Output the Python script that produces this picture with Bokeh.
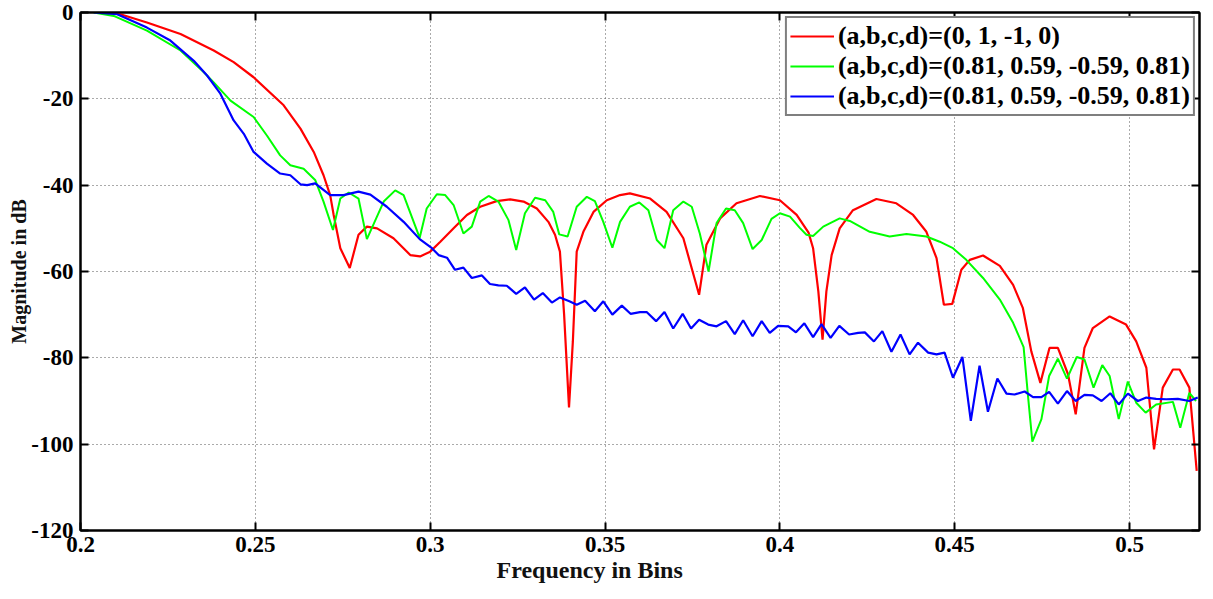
from bokeh.plotting import figure
from bokeh.models import LinearAxis, FixedTicker, Legend, LegendItem, Range1d, Title
from bokeh.embed import file_html
from bokeh.resources import INLINE

# ---------------- data ----------------
x_ticks = [0.2, 0.25, 0.3, 0.35, 0.4, 0.45, 0.5]
x_tick_labels = ["0.2", "0.25", "0.3", "0.35", "0.4", "0.45", "0.5"]
y_ticks = [-120, -100, -80, -60, -40, -20, 0]
y_tick_labels = ["-120", "-100", "-80", "-60", "-40", "-20", "0"]

x_title = "Frequency in Bins"
y_title = "Magnitude in dB"

series_labels = [
    "(a,b,c,d)=(0, 1, -1, 0)",
    "(a,b,c,d)=(0.81, 0.59, -0.59, 0.81)",
    "(a,b,c,d)=(0.81, 0.59, -0.59, 0.81)",
]

red_f = [0.2038, 0.2114, 0.219, 0.2286, 0.2381, 0.2438, 0.2495, 0.2581, 0.2629, 0.2667,
         0.2695, 0.2714, 0.2724, 0.2743, 0.277, 0.2795, 0.2819, 0.2848, 0.2895, 0.2943,
         0.2971, 0.3, 0.3029, 0.3067, 0.3105, 0.3143, 0.319, 0.3229, 0.3267, 0.3305,
         0.3338, 0.3357, 0.3371, 0.3383, 0.3397, 0.3408, 0.3419, 0.3438, 0.3467, 0.3505,
         0.3543, 0.3571, 0.3629, 0.3676, 0.3724, 0.3769, 0.379, 0.3829, 0.3876, 0.3943,
         0.4, 0.4048, 0.4082, 0.4095, 0.411, 0.4122, 0.4133, 0.4148, 0.4171, 0.4209,
         0.4276, 0.4333, 0.4381, 0.4419, 0.4448, 0.4469, 0.4493, 0.4519, 0.4543, 0.4581,
         0.4629, 0.4667, 0.4695, 0.4719, 0.4745, 0.4771, 0.4795, 0.4824, 0.4846, 0.4871,
         0.4895, 0.4943, 0.499, 0.5019, 0.5048, 0.507, 0.5095, 0.5124, 0.5143, 0.5171,
         0.5192]
red_db = [0, -0.4, -2.3, -5, -8.8, -11.5, -15, -21.5, -26.9, -32.3,
          -37.7, -42.3, -46.9, -54.6, -59.2, -51.5, -49.6, -50, -52.3, -56.2,
          -56.5, -55.4, -53.1, -50, -46.9, -45, -43.7, -43.3, -43.8, -45.4,
          -48.5, -51.5, -55.4, -70, -91.5, -76.2, -55.4, -50.8, -46.2, -43.5,
          -42.3, -41.9, -43.1, -46.2, -52.3, -65.4, -53.8, -47.7, -44.2, -42.5,
          -43.5, -46.9, -51, -54.6, -64.6, -75.8, -64.6, -56.2, -50, -45.8,
          -43.2, -44.2, -46.9, -50.8, -56.9, -67.7, -67.5, -59.6, -57.3, -56.3,
          -58.7, -63.1, -68.5, -78.5, -85.8, -77.7, -77.7, -83.8, -93.1, -77.7,
          -73.1, -70.4, -72.3, -76.2, -82.3, -101.2, -86.9, -82.7, -82.7, -86.9,
          -106.2]

green_f = [0.2038, 0.2095, 0.219, 0.2286, 0.2352, 0.2381, 0.2429, 0.2495, 0.2533, 0.2571,
           0.26, 0.2638, 0.2671, 0.2695, 0.2722, 0.2743, 0.2767, 0.2795, 0.2819, 0.2867,
           0.29, 0.2924, 0.297, 0.299, 0.3019, 0.3043, 0.3067, 0.3095, 0.3119, 0.3143,
           0.3167, 0.3195, 0.3224, 0.3246, 0.3271, 0.33, 0.3329, 0.3352, 0.3369, 0.3393,
           0.3419, 0.3448, 0.3471, 0.3495, 0.3521, 0.3543, 0.3571, 0.3598, 0.3624, 0.3648,
           0.367, 0.3695, 0.3724, 0.3748, 0.3771, 0.3796, 0.3819, 0.3846, 0.3871, 0.3895,
           0.3922, 0.3948, 0.3976, 0.4, 0.4029, 0.4057, 0.4076, 0.4095, 0.4124, 0.4171,
           0.42, 0.4257, 0.4314, 0.4362, 0.4419, 0.4457, 0.4495, 0.4533, 0.4581, 0.4629,
           0.4667, 0.4697, 0.471, 0.4722, 0.4748, 0.477, 0.4795, 0.4821, 0.4849, 0.4871,
           0.4897, 0.4922, 0.4943, 0.4969, 0.4995, 0.5019, 0.5046, 0.5076, 0.5124, 0.5145,
           0.5171, 0.519]
green_db = [0, -0.8, -4.2, -8.8, -13.8, -16.2, -20.4, -24.2, -28.5, -33.1,
            -35.4, -36.2, -38.8, -43.8, -50.4, -43.1, -41.7, -43.1, -52.5, -43.8,
            -41.2, -42.3, -52.2, -45.4, -42.1, -42.3, -44.6, -51.2, -49.6, -43.8,
            -42.5, -43.8, -48.1, -55, -46.5, -42.9, -43.5, -46.2, -51.4, -51.9,
            -45, -42.7, -43.7, -48.5, -54.5, -48.5, -45, -44, -45.8, -52.7,
            -54.6, -45.8, -43.8, -45, -51.2, -60, -48.8, -45.4, -45.8, -48.8,
            -54.8, -52.7, -47.8, -46.5, -47.3, -49.9, -51.5, -51.8, -49.6, -47.7,
            -48.3, -50.8, -51.9, -51.3, -51.9, -53.1, -54.6, -57.3, -61.5, -66.5,
            -71.9, -77.5, -89.2, -99.4, -94.2, -84.2, -80.2, -84.8, -79.8, -80.4,
            -86.9, -81.7, -84.2, -94.2, -85.5, -90.4, -92.7, -90.8, -90.2, -96.2,
            -88.1, -90]

blue_f = [0.2038, 0.2105, 0.219, 0.2257, 0.2324, 0.2362, 0.24, 0.2438, 0.2467, 0.2495,
          0.2533, 0.2571, 0.26, 0.2629, 0.2648, 0.2671, 0.2714, 0.2752, 0.2795, 0.2829,
          0.2876, 0.2924, 0.297, 0.3005, 0.3024, 0.3048, 0.3071, 0.3095, 0.3119, 0.3148,
          0.3171, 0.3195, 0.3219, 0.3246, 0.3271, 0.3297, 0.3322, 0.3348, 0.3371, 0.3398,
          0.3419, 0.3443, 0.3471, 0.3495, 0.3521, 0.3548, 0.3573, 0.36, 0.3619, 0.3646,
          0.367, 0.3695, 0.3722, 0.3746, 0.3769, 0.3795, 0.3819, 0.3846, 0.3871, 0.3895,
          0.3922, 0.3948, 0.3971, 0.3995, 0.4024, 0.4046, 0.407, 0.4095, 0.4119, 0.4145,
          0.417, 0.4198, 0.4224, 0.4243, 0.4269, 0.4293, 0.4319, 0.4345, 0.4371, 0.4395,
          0.4424, 0.4448, 0.4471, 0.4495, 0.4522, 0.4546, 0.4571, 0.4595, 0.4622, 0.4648,
          0.4671, 0.47, 0.4724, 0.4748, 0.477, 0.4795, 0.4821, 0.4846, 0.4871, 0.4895,
          0.492, 0.4945, 0.4969, 0.4995, 0.5024, 0.5048, 0.5076, 0.5105, 0.5138, 0.5171,
          0.5195]
blue_db = [0, -0.4, -3.5, -6.5, -11.2, -14.6, -18.8, -25, -28.1, -32.3,
           -35, -37.3, -37.7, -39.8, -40, -39.6, -42.3, -42.3, -41.5, -42.2,
           -45, -48.5, -52.5, -54.6, -56.2, -56.8, -59.6, -59.1, -61.5, -60.9,
           -62.9, -63.2, -63.3, -65.2, -63.7, -66.5, -65, -67.2, -66, -66.9,
           -67.7, -66.8, -69.2, -66.9, -70, -67.9, -69.8, -69.4, -69.4, -71.5,
           -69.4, -73.2, -69.8, -73.2, -71.2, -72.3, -72.7, -71.5, -74.5, -71.3,
           -75, -71.5, -74.2, -72.6, -72.7, -74.1, -72, -75.2, -72.2, -75.4,
           -72.6, -74.6, -74.2, -74.1, -76.2, -73.8, -78.6, -74.6, -79.2, -76.5,
           -78.8, -79.2, -78.8, -84.6, -79.8, -94.6, -81.8, -92.5, -84.8, -88.3,
           -88.5, -87.8, -89.1, -89.1, -87.9, -90.6, -87.7, -90, -88.6, -88.7,
           -90, -88.2, -90.8, -88.3, -90, -89.2, -89.5, -89.6, -89.5, -90,
           -89.2]

# ---------------- figure ----------------
FONT = "Liberation Serif"

p = figure(width=1211, height=597, output_backend="svg", toolbar_location=None,
           x_range=Range1d(0.2, 0.52), y_range=Range1d(-120, 0),
           min_border_left=80, min_border_right=12, min_border_top=12, min_border_bottom=67,
           background_fill_color="white", border_fill_color="white")
p.outline_line_color = "black"
p.outline_line_width = 2

overrides_x = dict(zip(x_ticks, x_tick_labels))
overrides_y = dict(zip(y_ticks, y_tick_labels))

for ax in p.xaxis:
    ax.ticker = FixedTicker(ticks=x_ticks)
    ax.major_label_overrides = overrides_x
    ax.major_label_standoff = 6
    ax.axis_label_standoff = 0
for ax in p.yaxis:
    ax.ticker = FixedTicker(ticks=y_ticks)
    ax.major_label_overrides = overrides_y
    ax.axis_label = y_title
    ax.axis_label_standoff = -2
    ax.major_label_standoff = 7
    ax.axis_label_text_font = FONT
    ax.axis_label_text_font_style = "bold"
    ax.axis_label_text_font_size = "20px"
    ax.axis_label_text_color = "#111111"

for ax in list(p.xaxis) + list(p.yaxis):
    ax.major_label_text_font = FONT
    ax.major_label_text_font_style = "bold"
    ax.major_label_text_font_size = "23px"
    ax.major_label_text_color = "black"
    ax.major_tick_in = 8
    ax.major_tick_out = 0
    ax.major_tick_line_width = 2
    ax.major_tick_line_color = "black"
    ax.minor_tick_line_color = None
    ax.axis_line_width = 2
    ax.axis_line_color = "black"

# x-axis title, placed like the reference (left of centre)
p.add_layout(Title(text=x_title, align="left", offset=416, standoff=0,
                   text_font=FONT, text_font_style="bold", text_font_size="24px",
                   text_color="#111111"), "below")

# tick-only axes on top and right (box style)
top_ax = LinearAxis(ticker=FixedTicker(ticks=x_ticks), major_label_text_font_size="1px",
                    major_label_text_color=None,
                    major_label_standoff=0, major_tick_in=8, major_tick_out=0,
                    major_tick_line_width=2, minor_tick_line_color=None, axis_line_width=2)
right_ax = LinearAxis(ticker=FixedTicker(ticks=y_ticks), major_label_text_font_size="1px",
                      major_label_text_color=None,
                      major_label_standoff=0, major_tick_in=8, major_tick_out=0,
                      major_tick_line_width=2, minor_tick_line_color=None, axis_line_width=2)
p.add_layout(top_ax, "above")
p.add_layout(right_ax, "right")

p.xgrid.ticker = FixedTicker(ticks=x_ticks)
p.ygrid.ticker = FixedTicker(ticks=y_ticks)
for g in (p.xgrid, p.ygrid):
    g.grid_line_color = "#555555"
    g.grid_line_dash = "1 3"
    g.grid_line_width = 1

r_red = p.line(red_f, red_db, line_color="#ff0000", line_width=2.2)
r_green = p.line(green_f, green_db, line_color="#00ff00", line_width=2)
r_blue = p.line(blue_f, blue_db, line_color="#0000ff", line_width=2.2)

legend = Legend(items=[LegendItem(label=series_labels[0], renderers=[r_red]),
                       LegendItem(label=series_labels[1], renderers=[r_green]),
                       LegendItem(label=series_labels[2], renderers=[r_blue])],
                location="top_right")
legend.margin = 4
legend.padding = 3
legend.spacing = 0
legend.glyph_width = 44
legend.glyph_height = 30
legend.label_height = 30
legend.label_standoff = 4
legend.label_text_font = FONT
legend.label_text_font_style = "bold"
legend.label_text_font_size = "26px"
legend.label_text_color = "black"
legend.border_line_color = "black"
legend.border_line_width = 2
legend.background_fill_color = "white"
legend.background_fill_alpha = 1
p.add_layout(legend)

open("out.html", "w").write(file_html(p, INLINE))
